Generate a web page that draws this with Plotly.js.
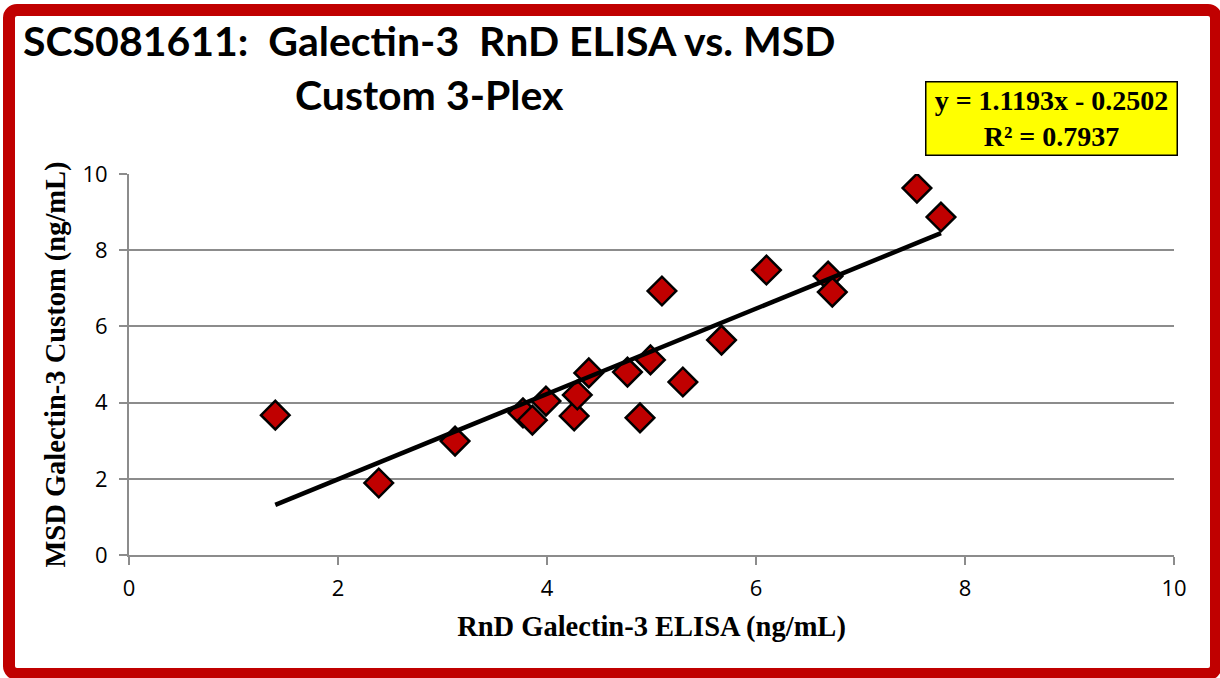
<!DOCTYPE html>
<html>
<head>
<meta charset="utf-8">
<script src="https://cdn.plot.ly/plotly-3.0.1.min.js"></script>
<style>
  html, body { margin: 0; padding: 0; background: #ffffff; }
  #wrap { position: relative; width: 1220px; height: 678px; overflow: hidden; }
  #chart { position: absolute; left: 0; top: 0; width: 1220px; height: 678px; }
  #frame { position: absolute; left: 3px; top: 4px; width: 1219px; height: 676px; box-sizing: border-box;
           border: 12px solid #c00000; border-radius: 14px; pointer-events: none; }
</style>
</head>
<body>
<div id="wrap">
  <div id="chart"></div>
  <div id="frame"></div>
</div>
<script>
// Data
const rndElisa = [1.40, 2.39, 3.12, 3.77, 3.86, 3.99, 4.26, 4.29, 4.40, 4.77, 4.89, 4.99, 5.30, 5.10, 5.67, 6.10, 6.69, 6.73, 7.54, 7.77];
const msdCustom = [3.67, 1.89, 2.99, 3.73, 3.54, 4.04, 3.65, 4.20, 4.78, 4.80, 3.60, 5.12, 4.54, 6.93, 5.64, 7.48, 7.32, 6.90, 9.63, 8.87];
const trendSlope = [1.1193];
const trendIntercept = [-0.2502];
const rSquared = [0.7937];
const titleLines = ["SCS081611:  Galectin-3  RnD ELISA vs. MSD", "Custom 3-Plex"];
const xTitle = "RnD Galectin-3 ELISA (ng/mL)";
const yTitle = "MSD Galectin-3 Custom (ng/mL)";
const axisTicks = [0, 2, 4, 6, 8, 10];

const xMin = Math.min(...rndElisa), xMax = Math.max(...rndElisa);
const trendX = [xMin, xMax];
const trendY = trendX.map(v => trendSlope[0] * v + trendIntercept[0]);

const sign = trendIntercept[0] < 0 ? " - " : " + ";
const eqText = "y = " + trendSlope[0].toFixed(4) + "x" + sign + Math.abs(trendIntercept[0]).toFixed(4) +
               "<br>R² = " + rSquared[0].toFixed(4);

const gray = '#8c8c8c';

const data = [
  {
    type: 'scatter', mode: 'markers', x: rndElisa, y: msdCustom,
    marker: { symbol: 'diamond', size: 22, color: '#c00000', line: { color: '#000000', width: 2.5 } },
    hoverinfo: 'x+y', showlegend: false
  },
  {
    type: 'scatter', mode: 'lines', x: trendX, y: trendY,
    line: { color: '#000000', width: 4.5 }, showlegend: false, hoverinfo: 'skip'
  }
];

const layout = {
  width: 1220, height: 678,
  margin: { l: 129, r: 46, t: 174, b: 123 },
  paper_bgcolor: '#ffffff', plot_bgcolor: '#ffffff',
  showlegend: false,
  xaxis: {
    range: [0, 10], tickvals: axisTicks, ticktext: axisTicks.map(String),
    showgrid: false, zeroline: false, showline: true, linecolor: gray, linewidth: 2,
    ticks: 'outside', ticklen: 8, tickwidth: 2, tickcolor: gray, ticklabelstandoff: 5,
    tickfont: { family: 'Open Sans', size: 22, color: '#000000' },
    title: { text: xTitle, font: { family: 'Liberation Serif', size: 28.5, weight: 700, color: '#000000' }, standoff: 15 }
  },
  yaxis: {
    range: [0, 10], tickvals: axisTicks, ticktext: axisTicks.map(String),
    showgrid: true, gridcolor: gray, gridwidth: 2, zeroline: false,
    showline: true, linecolor: gray, linewidth: 2,
    ticks: 'outside', ticklen: 8, tickwidth: 2, tickcolor: gray, ticklabelstandoff: 7,
    tickfont: { family: 'Open Sans', size: 22, color: '#000000' },
    title: { text: yTitle, font: { family: 'Liberation Serif', size: 28.5, weight: 700, color: '#000000' }, standoff: 8 }
  },
  annotations: [
    { xref: 'paper', yref: 'paper', x: (429 - 129) / 1045, y: (555 - 40) / 381, xanchor: 'center', yanchor: 'middle',
      text: titleLines[0], showarrow: false,
      font: { family: 'Lato', size: 41, weight: 700, color: '#000000' } },
    { xref: 'paper', yref: 'paper', x: (429 - 129) / 1045, y: (555 - 94) / 381, xanchor: 'center', yanchor: 'middle',
      text: titleLines[1], showarrow: false,
      font: { family: 'Lato', size: 41, weight: 700, color: '#000000' } },
    { xref: 'paper', yref: 'paper', x: (1051 - 129) / 1045, y: (555 - 119) / 381, xanchor: 'center', yanchor: 'middle',
      text: eqText, showarrow: false, align: 'center',
      bgcolor: '#ffff00', bordercolor: '#000000', borderwidth: 1.5, borderpad: 3,
      width: 244, height: 66,
      font: { family: 'Liberation Serif', size: 28, weight: 700, color: '#000000' } }
  ]
};

Plotly.newPlot('chart', data, layout, { displayModeBar: false, staticPlot: true });
</script>
</body>
</html>
